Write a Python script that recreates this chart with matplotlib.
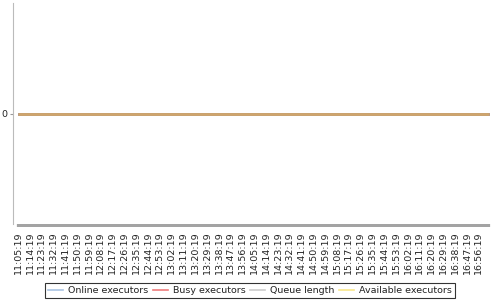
import matplotlib
matplotlib.use("Agg")
import matplotlib.pyplot as plt
import numpy as np
from matplotlib.lines import Line2D

# Data: one sample per minute from 11:05:19 to 17:04:19
start_minute = 11 * 60 + 5
n_points = 360
minutes = np.arange(start_minute, start_minute + n_points)
online_executors = [0] * n_points
busy_executors = [0] * n_points
queue_length = [0] * n_points
available_executors = [0] * n_points

series_names = ["Online executors", "Busy executors", "Queue length", "Available executors"]
legend_colors = ["#a9c3e3", "#ef7b7b", "#cccccc", "#f8e68a"]
line_colors = ["#5b84c4", "#c0504d", "#9a9a9a", "#cfa56c"]
series_values = [online_executors, busy_executors, queue_length, available_executors]

tick_minutes = list(range(start_minute, start_minute + n_points, 9))[:40]
tick_labels = ["%d:%02d:19" % (m // 60, m % 60) for m in tick_minutes]

fig = plt.figure(figsize=(5, 3), dpi=100)
ax = fig.add_axes([0.035, 0.2533, 0.945, 0.7367])

for vals, col in zip(series_values, line_colors):
    ax.plot(minutes, vals, color=col, lw=2.0, solid_capstyle="butt")

ax.set_xlim(minutes[0] - 0.5, minutes[-1] + 0.5)
ax.set_ylim(-1, 1)
ax.set_yticks([0])
ax.set_yticklabels(["0"])
ax.set_xticks(tick_minutes)
ax.set_xticklabels(tick_labels, rotation=90, fontsize=6.8, color="#222222")
ax.set_xticks(minutes, minor=True)
ax.tick_params(axis="x", which="both", length=2.5, width=1.6, color="#a3a3a3",
               direction="out", pad=3)
ax.tick_params(axis="y", length=2.5, color="#999999", labelsize=6.8, pad=1.5,
               labelcolor="#222222")

for s in ["top", "right", "bottom"]:
    ax.spines[s].set_visible(False)
ax.spines["left"].set_color("#bbbbbb")
ax.spines["left"].set_position(("outward", 3))

handles = [Line2D([0], [0], color=c, lw=1.2) for c in legend_colors]
leg = fig.legend(handles, series_names, loc="lower center", bbox_to_anchor=(0.5, 0.0),
                 ncol=4, fontsize=6.8, frameon=True, fancybox=False,
                 handlelength=1.6, handletextpad=0.5, columnspacing=0.5,
                 borderpad=0.3, borderaxespad=0.2)
leg.get_frame().set_edgecolor("black")
leg.get_frame().set_linewidth(0.8)
for t in leg.get_texts():
    t.set_color("#222222")

fig.savefig("out.png", dpi=100)
